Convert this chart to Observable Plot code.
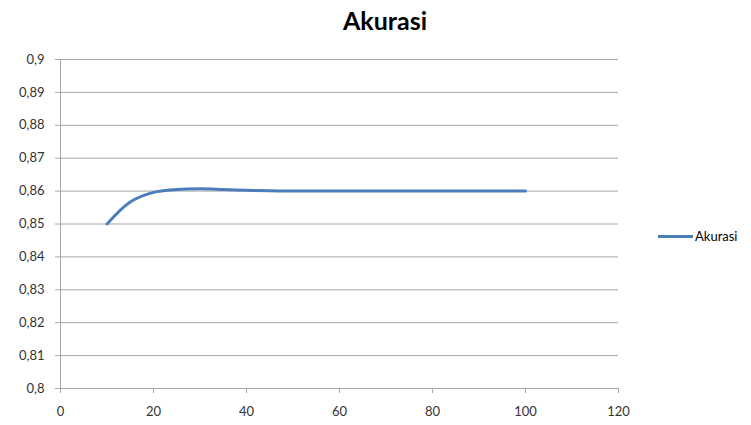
<!DOCTYPE html>
<html>
<head>
<meta charset="utf-8">
<script src="https://cdn.jsdelivr.net/npm/d3@7"></script>
<script src="https://cdn.jsdelivr.net/npm/@observablehq/plot@0.6"></script>
<style>
  html, body { margin: 0; padding: 0; background: #fff; }
  #wrap { position: relative; width: 751px; height: 425px; font-family: Lato, "Open Sans", sans-serif; }
  #title { height: 40px; text-align: center; font-weight: bold; font-size: 25px; line-height: 40px; color: #000; padding-left: 19px; box-sizing: border-box; }
  #legend { position: absolute; left: 658px; top: 228px; display: flex; align-items: center; font-size: 13px; color: #000; }
  #legend .sw { width: 35px; height: 3px; background: #4a7ebb; margin-right: 2px; }
</style>
</head>
<body>
<div id="wrap">
  <div id="title">Akurasi</div>
  <div id="chart"></div>
  <div id="legend"><div class="sw"></div><span>Akurasi</span></div>
</div>
<script>
const seriesName = "Akurasi";
const xValues = [10, 15, 20, 25, 30, 35, 40, 45, 50, 60, 70, 80, 90, 100];
const accuracy = [0.85, 0.8567, 0.8596, 0.8605, 0.8607, 0.8605, 0.86025, 0.86008, 0.86, 0.86, 0.86, 0.86, 0.86, 0.86];
const xTicks = [0, 20, 40, 60, 80, 100, 120];
const yTicks = [0.8, 0.81, 0.82, 0.83, 0.84, 0.85, 0.86, 0.87, 0.88, 0.89, 0.9];

const data = xValues.map((x, i) => ({x, y: accuracy[i]}));
const fmtY = d => String(+d.toFixed(2)).replace(".", ",");
const gridColor = "#a6a6a6";

const chart = Plot.plot({
  width: 751,
  height: 385,
  marginLeft: 60,
  marginRight: 133,
  marginTop: 19,
  marginBottom: 37,
  style: {fontFamily: "Lato, 'Open Sans', sans-serif", fontSize: "13px", color: "#333", background: "#fff"},
  x: {domain: [0, 120]},
  y: {domain: [0.8, 0.9]},
  marks: [
    Plot.ruleY(yTicks, {stroke: gridColor, strokeWidth: 1}),
    Plot.ruleX([0], {stroke: gridColor, strokeWidth: 1}),
    Plot.axisY({ticks: yTicks, tickFormat: fmtY, tickSize: 5, tickPadding: 11, stroke: gridColor, fill: "#333", label: null}),
    Plot.axisX({ticks: xTicks, tickFormat: d => String(d), tickSize: 5, tickPadding: 13, stroke: gridColor, fill: "#333", label: null}),
    Plot.line(data, {x: "x", y: "y", stroke: "#4a7ebb", strokeWidth: 3, curve: "catmull-rom"})
  ]
});
document.getElementById("chart").appendChild(chart);
</script>
</body>
</html>
